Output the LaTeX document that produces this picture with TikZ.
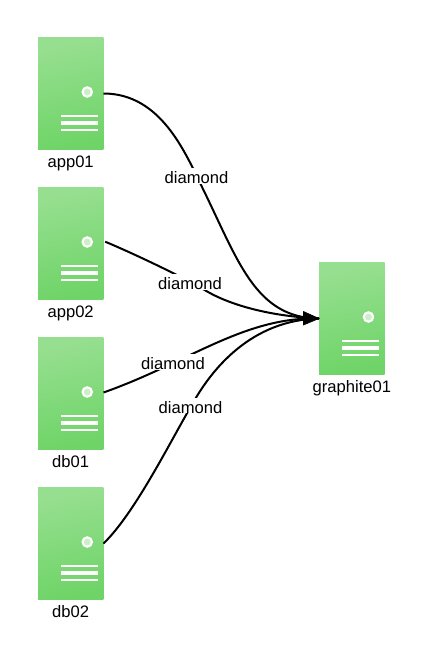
\documentclass[tikz,border=0pt]{standalone}
\usepackage{fontspec}
\setmainfont{Liberation Sans}
\usetikzlibrary{arrows.meta,positioning}
\definecolor{srvtop}{HTML}{97DF90}
\definecolor{srvbot}{HTML}{6FD468}
\tikzset{
  x=1pt,y=-1pt,
  serverbox/.style={draw=none,minimum width=65.3pt,minimum height=112.4pt,inner sep=0pt,
    top color=srvtop,bottom color=srvbot,shading angle=12},
  srvname/.style={font=\fontsize{16.6}{18}\selectfont,text=black,inner sep=0pt,anchor=base},
  edgelabel/.style={font=\fontsize{16.6}{18}\selectfont,text=black,fill=white,inner xsep=1pt,inner ysep=0.3pt,text height=15pt,text depth=0pt,anchor=base},
  link/.style={draw=black,line width=2pt},
  linkhead/.style={draw=black,line width=0.6pt,fill=black},
  pics/srvdetail/.style={code={
    \draw[white,line width=2.1pt,fill=srvtop!50!white] (16.6,-1.5) circle (4.7);
    \draw[white,line width=1.8pt] (-9.7,22.8) -- (27,22.8);
    \draw[white,line width=3.4pt] (-9.7,29.5) -- (27,29.5);
    \draw[white,line width=2.4pt] (-9.7,36.2) -- (27,36.2);
  }}
}
\begin{document}
\begin{tikzpicture}
\useasboundingbox (0,0) rectangle (422,666);
\foreach \n/\cx/\cy/\t in {app01/70.65/93.5/app01,app02/70.65/243.5/app02,db01/70.65/393.5/db01,db02/70.65/543.5/db02,graphite01/351.85/318.5/graphite01}{
  \node[serverbox] (\n) at (\cx,\cy) {};
  \pic at (\n.center) {srvdetail};
  \node[srvname] (\n-name) at (\cx,\cy+73.8) {\t};
}
\coordinate (m1) at (202,187);
\coordinate (m2) at (203,289);
\coordinate (m4) at (191.5,405.5);
\draw[link] (app01.east) .. controls +(57,0) and (185,152) .. (m1)
  .. controls (238,260) and (255,318) .. (graphite01.west);
\draw[link] ([shift={(1.7,-1.8)}]app02.east) .. controls (130,252) and (180,275.5) .. (m2)
  .. controls (225,303) and (265,316) .. (graphite01.west);
\draw[link] ([shift={(0,-1)}]db01.east) .. controls +(85,-30) and +(-75,-2) .. (graphite01.west);
\draw[link] (db02.east) .. controls (135,513) and (170,442) .. (m4)
  .. controls (212,368) and (252,320) .. (graphite01.west);
\coordinate (tipbase-a) at ([shift={(-15.5,-7)}]graphite01.west);
\coordinate (tipbase-b) at ([shift={(-15.5,6.5)}]graphite01.west);
\draw[linkhead] (graphite01.west) -- (tipbase-a) -- (tipbase-b) -- cycle;
\node[edgelabel] (l1) at (196.5,183.5) {diamond};
\node[edgelabel] (l2) at (190,289.5) {diamond};
\node[edgelabel] (l3) at (173,369.3) {diamond};
\node[edgelabel] (l4) at (190.5,413) {diamond};
\end{tikzpicture}
\end{document}
